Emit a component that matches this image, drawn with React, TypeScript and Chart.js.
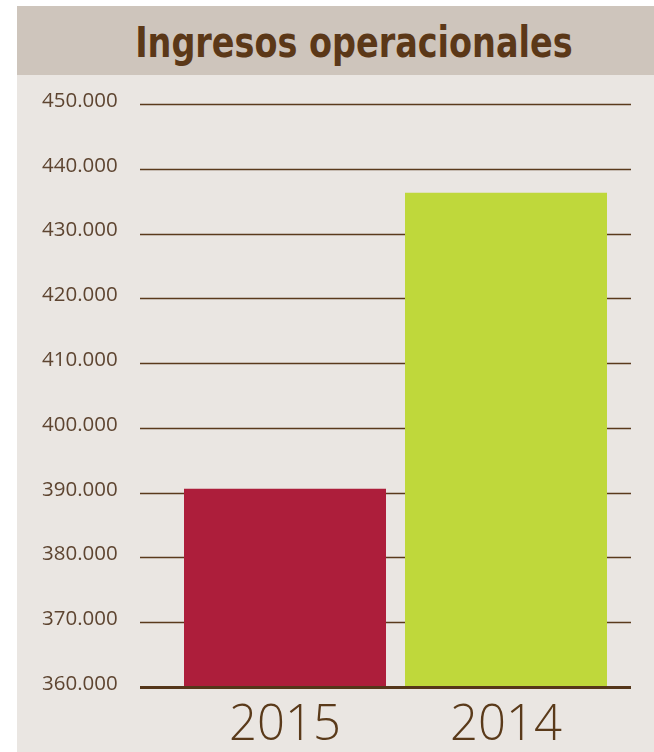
import React, { useEffect, useRef } from 'react';
import { Chart, registerables } from 'chart.js';

Chart.register(...registerables);

const title = 'Ingresos operacionales';
const categories = ['2015', '2014'];
const values = [390600, 436300];
const barColors = ['#ad1e3b', '#bfd83b'];
const yMin = 360000;
const yMax = 450000;
const yStep = 10000;

const fmt = (v: number) => String(Math.round(v)).replace(/\B(?=(\d{3})+(?!\d))/g, '.');

const lineColor = '#5a3a1c';

const gridPlugin = {
  id: 'extGrid',
  beforeDatasetsDraw(chart: any) {
    const { ctx, chartArea, scales } = chart;
    const y = scales.y;
    ctx.save();
    y.ticks.forEach((t: any) => {
      if (t.value === yMin) return;
      const py = Math.round(y.getPixelForValue(t.value)) + 0.5;
      ctx.strokeStyle = lineColor;
      ctx.lineWidth = 1.3;
      ctx.beginPath();
      ctx.moveTo(chartArea.left - 34.5, py);
      ctx.lineTo(chartArea.right + 14.5, py);
      ctx.stroke();
    });
    ctx.restore();
  },
  afterDatasetsDraw(chart: any) {
    const { ctx, chartArea, scales } = chart;
    const y = scales.y;
    const py = y.getPixelForValue(yMin) + 0.5;
    ctx.save();
    ctx.strokeStyle = '#55361a';
    ctx.lineWidth = 3;
    ctx.beginPath();
    ctx.moveTo(chartArea.left - 34.5, py);
    ctx.lineTo(chartArea.right + 14.5, py);
    ctx.stroke();
    ctx.restore();
  },
};

function BarChart() {
  const ref = useRef<HTMLCanvasElement | null>(null);
  useEffect(() => {
    if (!ref.current) return;
    const chart = new Chart(ref.current, {
      type: 'bar',
      data: {
        labels: categories,
        datasets: [
          {
            data: values,
            backgroundColor: barColors,
            borderWidth: 0,
            barPercentage: 0.914,
            categoryPercentage: 1,
          },
        ],
      },
      options: {
        animation: false,
        responsive: true,
        maintainAspectRatio: false,
        layout: { padding: { left: 25, right: 37.5, top: 29, bottom: 0 } },
        plugins: { legend: { display: false }, tooltip: { enabled: false } },
        scales: {
          x: {
            grid: { display: false },
            border: { display: false },
            ticks: {
              color: '#5a3a1a',
              font: { family: '"Open Sans", sans-serif', size: 49, weight: '300' },
              padding: 2,
            },
            afterFit: (s: any) => {
              s.height = 65;
            },
          },
          y: {
            min: yMin,
            max: yMax,
            grid: { display: false },
            border: { display: false },
            ticks: {
              stepSize: yStep,
              crossAlign: 'far',
              labelOffset: -3,
              color: '#5e4531',
              font: { family: '"Open Sans", sans-serif', size: 20.5, weight: '400' },
              callback: (v: any) => fmt(Number(v)),
            },
            afterFit: (s: any) => {
              s.width = 132.5;
            },
          },
        },
      },
      plugins: [gridPlugin],
    } as any);
    return () => chart.destroy();
  }, []);
  return <canvas ref={ref} />;
}

export default function App() {
  return (
    <div style={{ position: 'absolute', left: 0, top: 0, width: 654, height: 752, background: '#ffffff', overflow: 'hidden' }}>
      <div style={{ position: 'absolute', left: 17, top: 6, width: 637, height: 746, background: '#eae6e2' }}>
        <div
          style={{
            height: 69,
            background: '#cec5bc',
            display: 'flex',
            alignItems: 'center',
            justifyContent: 'center',
            paddingLeft: 37,
            boxSizing: 'border-box',
          }}
        >
          <div
            style={{
              fontFamily: '"Liberation Sans Narrow", "DejaVu Sans Condensed", "Open Sans", sans-serif',
              fontWeight: 700,
              fontSize: 43,
              color: '#5b3818',
              lineHeight: 1,
              marginTop: 4,
              whiteSpace: 'nowrap',
              transform: 'scaleX(0.865)',
              transformOrigin: 'center',
            }}
          >
            {title}
          </div>
        </div>
        <div style={{ position: 'relative', width: 637, height: 677 }}>
          <BarChart />
        </div>
      </div>
    </div>
  );
}
